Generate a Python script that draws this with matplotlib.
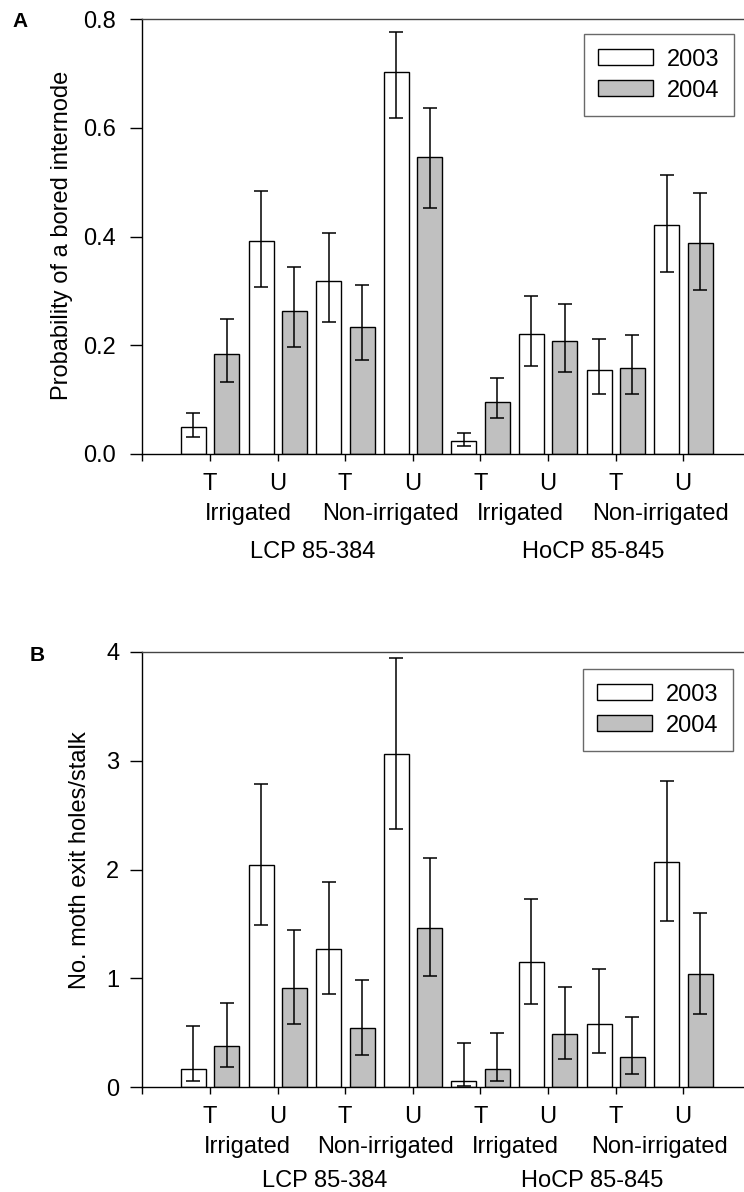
import numpy as np
import matplotlib
matplotlib.use('Agg')
import matplotlib.pyplot as plt

plt.rcParams['font.family'] = ['Liberation Sans', 'DejaVu Sans']

treat = ['T', 'U', 'T', 'U', 'T', 'U', 'T', 'U']
water = ['Irrigated', 'Non-irrigated', 'Irrigated', 'Non-irrigated']
cultivar = ['LCP 85-384', 'HoCP 85-845']
years = ['2003', '2004']

# panel A: probability of a bored internode (mean, upper, lower)
a03 = [0.050, 0.392, 0.319, 0.702, 0.023, 0.220, 0.154, 0.421]
a03_hi = [0.075, 0.483, 0.406, 0.776, 0.0385, 0.290, 0.211, 0.514]
a03_lo = [0.032, 0.308, 0.243, 0.618, 0.014, 0.162, 0.110, 0.335]
a04 = [0.183, 0.263, 0.234, 0.546, 0.096, 0.207, 0.158, 0.388]
a04_hi = [0.248, 0.343, 0.310, 0.637, 0.139, 0.275, 0.218, 0.480]
a04_lo = [0.132, 0.196, 0.172, 0.452, 0.066, 0.150, 0.111, 0.302]

# panel B: moth exit holes per stalk
b03 = [0.169, 2.04, 1.271, 3.058, 0.059, 1.152, 0.582, 2.071]
b03_hi = [0.558, 2.79, 1.884, 3.946, 0.404, 1.731, 1.082, 2.810]
b03_lo = [0.052, 1.49, 0.855, 2.369, 0.012, 0.766, 0.3125, 1.529]
b04 = [0.377, 0.913, 0.539, 1.464, 0.168, 0.490, 0.279, 1.039]
b04_hi = [0.775, 1.446, 0.983, 2.105, 0.50, 0.916, 0.641, 1.60]
b04_lo = [0.18, 0.579, 0.297, 1.020, 0.058, 0.260, 0.122, 0.674]

W, H = 744, 1192
fig = plt.figure(figsize=(W / 100, H / 100), dpi=100)

FS = 17
x = np.arange(1, 9)


def panel(rect, m03, hi03, lo03, m04, hi04, lo04, ylim, yticks, fmt, ylab,
          ylab_xy, leg_anchor, tick_pad, water_dy, cult_dy,
          water_px, cult_px):
    ax = fig.add_axes(rect)
    m03, m04 = np.array(m03), np.array(m04)
    ax.bar(x - 0.245, m03, 0.37, color='white', edgecolor='black',
           linewidth=1.0, label=years[0], zorder=2)
    ax.bar(x + 0.25, m04, 0.37, color='#c0c0c0', edgecolor='black',
           linewidth=1.0, label=years[1], zorder=2)
    ax.errorbar(x - 0.245, m03, yerr=[m03 - np.array(lo03), np.array(hi03) - m03],
                fmt='none', ecolor='black', elinewidth=1.1, capsize=5,
                capthick=1.1, zorder=3)
    ax.errorbar(x + 0.25, m04, yerr=[m04 - np.array(lo04), np.array(hi04) - m04],
                fmt='none', ecolor='black', elinewidth=1.1, capsize=5,
                capthick=1.1, zorder=3)
    ax.set_xlim(0, 8.9)
    ax.set_ylim(*ylim)
    ax.set_yticks(yticks)
    ax.set_yticklabels([fmt.format(v) for v in yticks], fontsize=FS)
    ax.set_xticks(np.arange(0, 9))
    ax.set_xticklabels([''] + treat, fontsize=FS)
    ax.tick_params(axis='y', direction='out', length=9, width=1, pad=tick_pad[0])
    ax.tick_params(axis='x', direction='out', length=5, width=1, pad=tick_pad[1])
    ax.spines['right'].set_visible(False)
    for s in ['left', 'bottom']:
        ax.spines[s].set_linewidth(1.0)
    ax.spines['top'].set_color('#444444')
    ax.spines['top'].set_linewidth(1.0)

    for px, lab in zip(water_px, water):
        ax.annotate(lab, xy=((px - 142.4) / 67.6, 0),
                    xycoords=('data', 'axes fraction'), xytext=(0, -water_dy),
                    textcoords='offset pixels', ha='center', va='baseline',
                    fontsize=FS, annotation_clip=False)
    for px, lab in zip(cult_px, cultivar):
        ax.annotate(lab, xy=((px - 142.4) / 67.6, 0),
                    xycoords=('data', 'axes fraction'), xytext=(0, -cult_dy),
                    textcoords='offset pixels', ha='center', va='baseline',
                    fontsize=FS, annotation_clip=False)

    fig.text(ylab_xy[0] / W, 1 - ylab_xy[1] / H, ylab, rotation=90,
             ha='center', va='center', fontsize=FS)

    leg = ax.legend(loc='upper right', bbox_to_anchor=leg_anchor,
                    borderaxespad=0, fontsize=FS, fancybox=False,
                    handlelength=2.3, handleheight=0.68, handletextpad=0.6,
                    labelspacing=0.38, borderpad=0.62)
    leg.get_frame().set_edgecolor('#444444')
    leg.get_frame().set_linewidth(1.0)
    return ax


axh = 435 / H
panel([142.4 / W, (H - 454) / H, (W - 142.4) / W, axh],
      a03, a03_hi, a03_lo, a04, a04_hi, a04_lo,
      (0, 0.8), [0.0, 0.2, 0.4, 0.6, 0.8], '{:.1f}',
      'Probability of a bored internode', (62, 235),
      (0.9834, 0.9655), (10, 9), 66, 104,
      [248.5, 390.5, 520, 661], [312.5, 593])

panel([142.4 / W, (H - 1087) / H, (W - 142.4) / W, axh],
      b03, b03_hi, b03_lo, b04, b04_hi, b04_lo,
      (0, 4), [0, 1, 2, 3, 4], '{:d}',
      'No. moth exit holes/stalk', (80, 860),
      (0.9817, 0.961), (7.5, 8.5), 66, 100,
      [247.5, 386, 515.8, 660], [325, 592])

fig.text(12 / W, 1 - 12 / H, 'A', fontsize=15, fontweight='bold',
         ha='left', va='top')
fig.text(30 / W, 1 - 646 / H, 'B', fontsize=15, fontweight='bold',
         ha='left', va='top')

fig.savefig('out.png', dpi=100)
